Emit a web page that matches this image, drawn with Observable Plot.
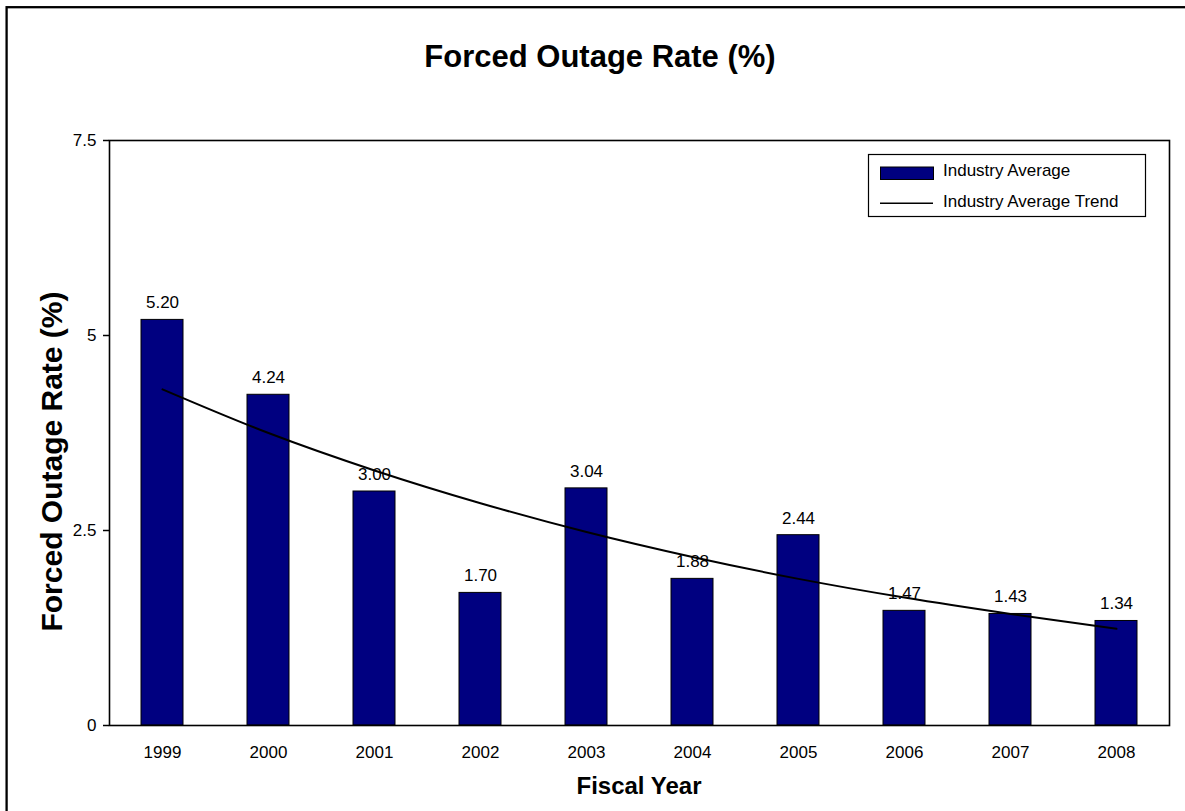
<!DOCTYPE html>
<html><head><meta charset="utf-8">
<script src="https://cdn.jsdelivr.net/npm/d3@7"></script>
<script src="https://cdn.jsdelivr.net/npm/@observablehq/plot@0.6"></script>
<style>
body{margin:0;background:#fff;overflow:hidden;}
#wrap{position:relative;width:1185px;height:811px;overflow:hidden;}
</style>
</head><body><div id="wrap"></div>
<script>
const years = ["1999","2000","2001","2002","2003","2004","2005","2006","2007","2008"];
const rates = [5.20,4.24,3.00,1.70,3.04,1.88,2.44,1.47,1.43,1.34];
const trend = [4.31,3.75,3.27,2.85,2.48,2.16,1.88,1.64,1.43,1.24];
const yTicks = [0,2.5,5,7.5];
const seriesNames = ["Industry Average","Industry Average Trend"];
const titleText = "Forced Outage Rate (%)";
const yTitle = "Forced Outage Rate (%)";
const xTitle = "Fiscal Year";

const data = years.map((y,i)=>({year:y, rate:rates[i], trend:trend[i]}));
const FONT = '"Liberation Sans", Arial, Helvetica, sans-serif';
const NAVY = "#000080";

const chart = Plot.plot({
  width:1185, height:811,
  marginLeft:109, marginRight:16, marginTop:140, marginBottom:86,
  style:{fontFamily:FONT, fontSize:"17px", color:"#000", background:"transparent", overflow:"hidden"},
  x:{domain:years, paddingInner:0.6, paddingOuter:0.3, label:null},
  y:{domain:[0,7.5], label:null},
  marks:[
    Plot.barY(data,{x:"year", y:"rate", fill:NAVY, stroke:"#000", strokeWidth:1}),
    Plot.text(data,{x:"year", y:"rate", text:d=>d.rate.toFixed(2), dy:-17, lineAnchor:"middle", fontSize:17, fill:"#000"}),
    Plot.line(data,{x:"year", y:"trend", curve:"catmull-rom", stroke:"#000", strokeWidth:2}),
    Plot.frame({stroke:"#000", strokeWidth:1.6}),
    Plot.axisY({ticks:yTicks, tickSize:6, tickPadding:7, tickFormat:d=>String(d), label:null, stroke:"#000", strokeWidth:1.5, fontSize:17}),
    Plot.axisX({tickSize:0, tickPadding:20, label:null, fontSize:17})
  ]
});
document.getElementById("wrap").appendChild(chart);

const svg = d3.select(chart);
svg.insert("rect", ":first-child")
  .attr("x",6.6).attr("y",7.2).attr("width",1250).attr("height",900)
  .attr("fill","none").attr("stroke","#000").attr("stroke-width",2.3);

svg.append("text").attr("x",600).attr("y",67).attr("text-anchor","middle")
  .attr("font-family",FONT).attr("font-weight","bold").attr("font-size",31).attr("fill","#000").text(titleText);
svg.append("text").attr("transform","translate(61.5,461.5) rotate(-90)").attr("text-anchor","middle")
  .attr("font-family",FONT).attr("font-weight","bold").attr("font-size",30).attr("fill","#000").text(yTitle);
svg.append("text").attr("x",639).attr("y",794).attr("text-anchor","middle")
  .attr("font-family",FONT).attr("font-weight","bold").attr("font-size",24).attr("fill","#000").text(xTitle);

const lg = svg.append("g");
lg.append("rect").attr("x",868.5).attr("y",154.5).attr("width",277).attr("height",62)
  .attr("fill","#fff").attr("stroke","#000").attr("stroke-width",1.2);
lg.append("rect").attr("x",880.5).attr("y",167).attr("width",53).attr("height",12.5)
  .attr("fill",NAVY).attr("stroke","#000").attr("stroke-width",1);
lg.append("line").attr("x1",880).attr("x2",933).attr("y1",203.3).attr("y2",203.3)
  .attr("stroke","#000").attr("stroke-width",1.5);
lg.append("text").attr("x",943).attr("y",175.7).attr("text-anchor","start").attr("font-family",FONT).attr("font-size",17).attr("fill","#000").text(seriesNames[0]);
lg.append("text").attr("x",943).attr("y",207).attr("text-anchor","start").attr("font-family",FONT).attr("font-size",17).attr("fill","#000").text(seriesNames[1]);
</script>
</body></html>
